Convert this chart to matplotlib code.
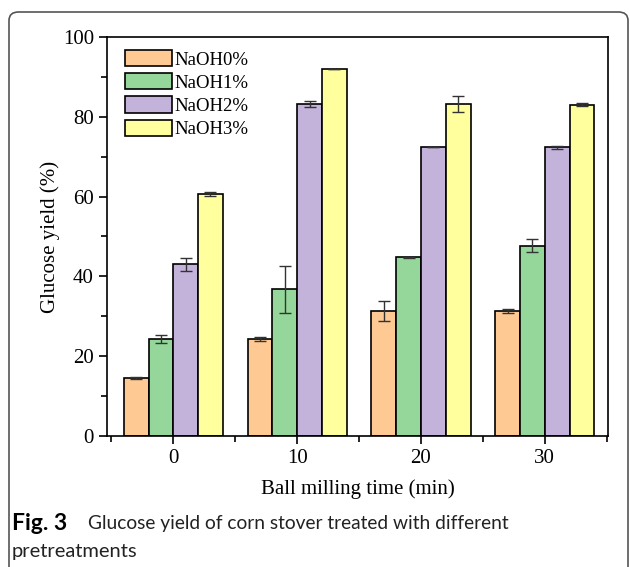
import numpy as np
import matplotlib.pyplot as plt
from matplotlib.patches import FancyBboxPatch

times = [0, 10, 20, 30]
labels = ["NaOH0%", "NaOH1%", "NaOH2%", "NaOH3%"]
naoh0 = [14.5, 24.2, 31.4, 31.4]
naoh1 = [24.3, 36.8, 44.8, 47.7]
naoh2 = [43.0, 83.2, 72.5, 72.3]
naoh3 = [60.7, 92.0, 83.2, 83.0]
err0 = [0.2, 0.5, 2.5, 0.5]
err1 = [0.9, 5.9, 0.1, 1.6]
err2 = [1.6, 0.7, 0.0, 0.3]
err3 = [0.5, 0.0, 2.1, 0.4]
colors = ["#FFC993", "#95D69A", "#C3B2DA", "#FFFF9E"]

plt.rcParams['font.family'] = ['Liberation Serif', 'DejaVu Serif']

fig = plt.figure(figsize=(6.3, 5.67), dpi=100)
ax = fig.add_axes([0.170, 0.231, 0.795, 0.704])

x = np.array(times, dtype=float)
w = 2.0
series = [naoh0, naoh1, naoh2, naoh3]
errs = [err0, err1, err2, err3]
for i, (vals, e) in enumerate(zip(series, errs)):
    ax.bar(x + (i - 1.5) * w, vals, width=w, color=colors[i], edgecolor='black',
           linewidth=1.2, label=labels[i],
           yerr=e, error_kw=dict(ecolor='#333333', elinewidth=1, capsize=4, capthick=1))

ax.set_xlim(-5.35, 35.1)
ax.set_ylim(0, 100)
ax.set_xticks(times)
ax.set_xticks([-5, 5, 15, 25, 35], minor=True)
ax.set_yticks([0, 20, 40, 60, 80, 100])
ax.set_yticks([10, 30, 50, 70, 90], minor=True)
ax.tick_params(axis='both', which='major', direction='out', length=6, width=1.2,
               labelsize=15)
ax.tick_params(axis='both', which='minor', direction='out', length=4, width=1.2)
for s in ax.spines.values():
    s.set_linewidth(1.2)

ax.set_xlabel("Ball milling time (min)", fontsize=15, labelpad=8)
ax.set_ylabel("Glucose yield (%)", fontsize=15, labelpad=2)

ax.legend(loc='upper left', frameon=False, fontsize=13.5, handlelength=2.5,
          handleheight=0.95, labelspacing=0.25, handletextpad=0.15,
          borderaxespad=0.3, bbox_to_anchor=(0.01, 1.0))

# caption
cap_font = ['Lato', 'DejaVu Sans']
fig.text(12 / 630, 1 - 524 / 567, "Fig. 3", fontsize=16.5, fontweight='bold',
         family=cap_font, va='center', ha='left')
fig.text(88 / 630, 1 - 524 / 567, "Glucose yield of corn stover treated with different",
         fontsize=13.8, family=cap_font, va='center', ha='left', color='#222222')
fig.text(12 / 630, 1 - 551 / 567, "pretreatments", fontsize=14.5,
         family=cap_font, va='center', ha='left', color='#222222')

# rounded border
box = FancyBboxPatch((9 / 630, -0.05), 619 / 630, 1 - 12 / 567 + 0.05,
                     boxstyle="round,pad=0,rounding_size=0.015",
                     transform=fig.transFigure, fill=False, edgecolor='#555555',
                     linewidth=1.2, clip_on=False)
fig.patches.append(box)

fig.savefig("out.png", dpi=100)
